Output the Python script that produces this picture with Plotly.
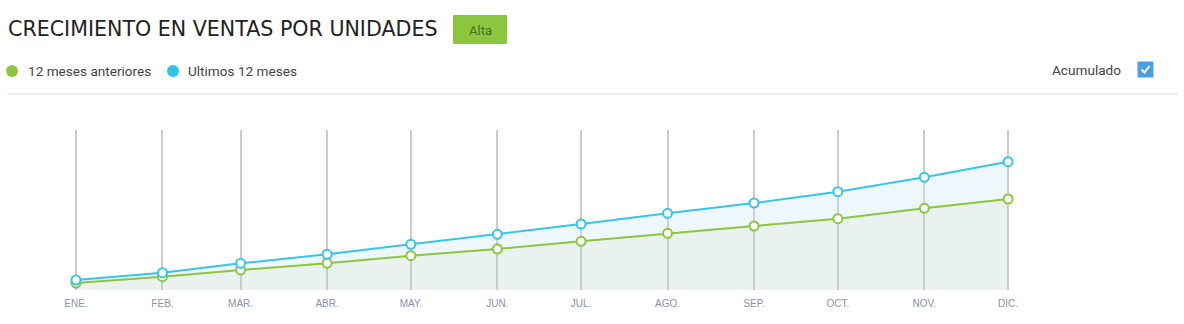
import plotly.graph_objects as go

months = ["2023-01-01","2023-02-01","2023-03-01","2023-04-01","2023-05-01","2023-06-01",
          "2023-07-01","2023-08-01","2023-09-01","2023-10-01","2023-11-01","2023-12-01"]
tick_labels = ["ENE.","FEB.","MAR.","ABR.","MAY.","JUN.","JUL.","AGO.","SEP.","OCT.","NOV.","DIC."]
previous_12 = [7, 13.3, 20, 26.7, 34.3, 41, 48.7, 56.7, 64, 71.3, 81.7, 91]
last_12 = [10, 17.3, 26.7, 35.7, 45.7, 55.7, 66, 76.7, 87, 98.3, 112.7, 128.3]

GREEN = "#8cc63f"
BLUE = "#38c4ea"

W, H = 1184, 324
L, R, T, B = 62, 162, 130, 34
PW, PH = W - L - R, H - T - B

def px(x):
    return (x - L) / PW

def py(y):
    return (H - B - y) / PH

fig = go.Figure()
fig.add_trace(go.Scatter(
    x=months, y=previous_12, mode="lines+markers", fill="tozeroy",
    fillcolor="rgba(182,212,202,0.3)", line=dict(color=GREEN, width=2),
    marker=dict(size=9, color="white", line=dict(color=GREEN, width=2)),
    cliponaxis=False, showlegend=False, name="12 meses anteriores"))
fig.add_trace(go.Scatter(
    x=months, y=last_12, mode="lines+markers", fill="tonexty",
    fillcolor="rgba(198,228,242,0.3)", line=dict(color=BLUE, width=2),
    marker=dict(size=9, color="white", line=dict(color=BLUE, width=2)),
    cliponaxis=False, showlegend=False, name="Ultimos 12 meses"))

fig.update_xaxes(
    type="date", range=["2022-12-27", "2023-12-06"],
    tickvals=months, ticktext=tick_labels,
    showgrid=True, gridcolor="#cbcbcb", gridwidth=2,
    zeroline=False, showline=False,
    ticks="outside", ticklen=4, tickcolor="rgba(0,0,0,0)",
    tickfont=dict(family="Liberation Sans", size=10, color="#8a90aa"))
fig.update_yaxes(range=[0, 160], showgrid=False, zeroline=False,
                 showticklabels=False, showline=False)

shapes = []
annotations = []

annotations.append(dict(
    x=px(6), y=py(29), xref="paper", yref="paper", xanchor="left", yanchor="middle",
    text="CRECIMIENTO EN VENTAS POR UNIDADES", showarrow=False,
    font=dict(family="DejaVu Sans", size=20.6, color="#222222")))

shapes.append(dict(type="rect", xref="paper", yref="paper",
                   x0=px(453), x1=px(507), y0=py(44), y1=py(15),
                   fillcolor="#8cc63f", line=dict(width=0)))
annotations.append(dict(
    x=px(480), y=py(30), xref="paper", yref="paper", xanchor="center", yanchor="middle",
    text="Alta", showarrow=False,
    font=dict(family="Roboto", size=13, color="#44701c")))

# legend dots
for cx, col in [(12, GREEN), (173, "#31c3ec")]:
    shapes.append(dict(type="circle", xref="paper", yref="paper",
                       x0=px(cx - 6), x1=px(cx + 6), y0=py(77), y1=py(65),
                       fillcolor=col, line=dict(width=0)))
annotations.append(dict(
    x=px(26), y=py(71), xref="paper", yref="paper", xanchor="left", yanchor="middle",
    text="12 meses anteriores", showarrow=False,
    font=dict(family="Roboto", size=13.6, color="#444444")))
annotations.append(dict(
    x=px(186), y=py(71), xref="paper", yref="paper", xanchor="left", yanchor="middle",
    text="Ultimos 12 meses", showarrow=False,
    font=dict(family="Roboto", size=13.6, color="#444444")))

annotations.append(dict(
    x=px(1123), y=py(70), xref="paper", yref="paper", xanchor="right", yanchor="middle",
    text="Acumulado", showarrow=False,
    font=dict(family="Roboto", size=13.6, color="#444444")))

# checkbox
cb_x0, cb_y0, cb_x1, cb_y1 = 1138, 62, 1153, 77
shapes.append(dict(type="rect", xref="paper", yref="paper",
                   x0=px(cb_x0), x1=px(cb_x1), y0=py(cb_y1), y1=py(cb_y0),
                   fillcolor="#4a9de6", line=dict(color="#4a9de6", width=1)))
shapes.append(dict(type="path", xref="paper", yref="paper",
                   path=f"M {px(1141.5)} {py(69.5)} L {px(1144.5)} {py(72.5)} L {px(1149.5)} {py(66)}",
                   line=dict(color="white", width=2)))

# separator
shapes.append(dict(type="line", xref="paper", yref="paper",
                   x0=px(7), x1=px(1178), y0=py(94), y1=py(94),
                   line=dict(color="#dddddd", width=1)))

fig.update_layout(
    width=W, height=H, margin=dict(l=L, r=R, t=T, b=B),
    paper_bgcolor="white", plot_bgcolor="white",
    shapes=shapes, annotations=annotations, showlegend=False)

fig.write_html("out.html")
